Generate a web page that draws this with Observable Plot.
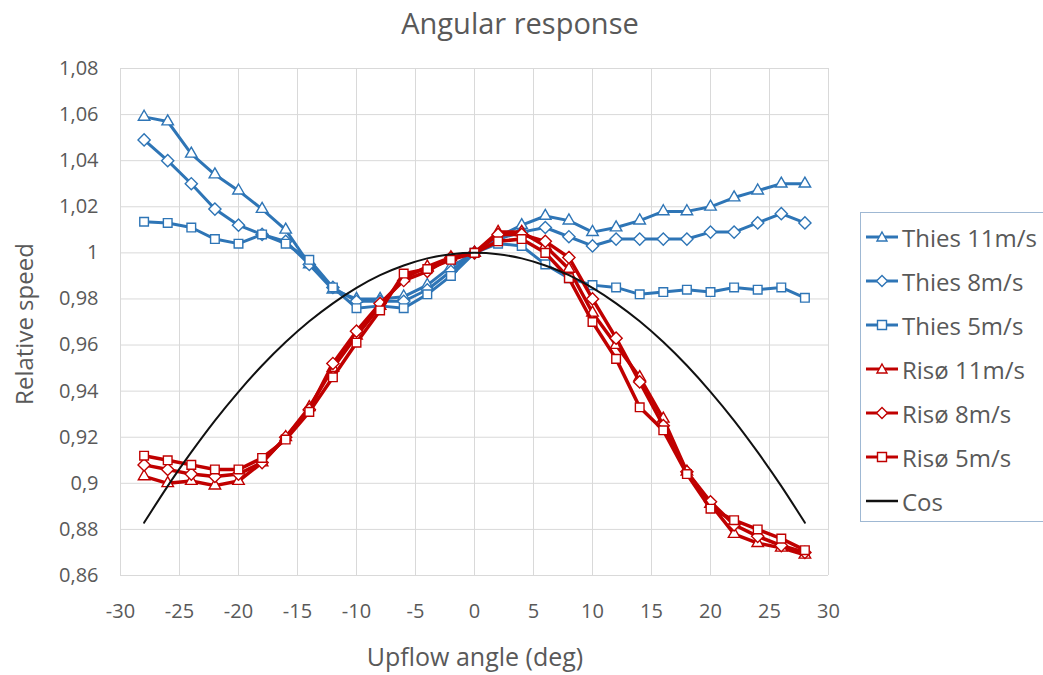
<!DOCTYPE html>
<html><head><meta charset="utf-8">
<script src="https://cdn.jsdelivr.net/npm/d3@7"></script>
<script src="https://cdn.jsdelivr.net/npm/@observablehq/plot@0.6"></script>
<style>
body{margin:0;background:#fff;font-family:"Open Sans",sans-serif;color:#595959;}
#wrap{position:relative;width:1043px;height:675px;overflow:hidden;}
#title{position:absolute;top:22px;left:520px;transform:translate(-50%,-50%);font-size:29px;white-space:nowrap;}
#ylab{position:absolute;left:23px;top:324px;transform:translate(-50%,-50%) rotate(-90deg);font-size:24px;white-space:nowrap;}
#xlab{position:absolute;left:475px;top:656px;transform:translate(-50%,-50%);font-size:25px;white-space:nowrap;}
#legend{position:absolute;left:860px;top:212px;width:200px;height:310px;border:1px solid #9fb8d3;box-sizing:border-box;}
.li{position:absolute;left:4px;height:30px;display:flex;align-items:center;font-size:24px;white-space:nowrap;}
.li svg{margin-right:3px;}
#chart{position:absolute;left:0;top:0;}
</style></head><body>
<div id="wrap">
<div id="chart"></div>
<div id="title">Angular response</div>
<div id="ylab">Relative speed</div>
<div id="xlab">Upflow angle (deg)</div>
<div id="legend"></div>
</div>
<script>
const angles = [-28,-26,-24,-22,-20,-18,-16,-14,-12,-10,-8,-6,-4,-2,0,2,4,6,8,10,12,14,16,18,20,22,24,26,28];
const thies11 = [1.059,1.057,1.043,1.034,1.027,1.019,1.010,0.995,0.984,0.980,0.980,0.981,0.986,0.994,1.000,1.007,1.012,1.016,1.014,1.009,1.011,1.014,1.018,1.018,1.020,1.024,1.027,1.030,1.030];
const thies8 = [1.049,1.040,1.030,1.019,1.012,1.008,1.005,0.995,0.985,0.979,0.979,0.979,0.984,0.992,1.000,1.006,1.009,1.011,1.007,1.003,1.006,1.006,1.006,1.006,1.009,1.009,1.013,1.017,1.013];
const thies5 = [1.0135,1.013,1.011,1.006,1.004,1.008,1.004,0.997,0.985,0.976,0.977,0.976,0.982,0.990,1.000,1.004,1.003,0.995,0.989,0.986,0.985,0.982,0.983,0.984,0.983,0.985,0.984,0.985,0.9805];
const riso11 = [0.903,0.900,0.901,0.899,0.901,0.909,0.920,0.933,0.950,0.964,0.977,0.989,0.994,0.998,1.000,1.009,1.009,1.003,0.993,0.974,0.960,0.946,0.928,0.905,0.891,0.878,0.874,0.872,0.869];
const riso8 = [0.908,0.906,0.904,0.903,0.904,0.909,0.920,0.932,0.952,0.966,0.978,0.988,0.992,0.998,1.000,1.008,1.008,1.005,0.998,0.980,0.963,0.944,0.925,0.905,0.892,0.882,0.877,0.873,0.870];
const riso5 = [0.912,0.910,0.908,0.906,0.906,0.911,0.919,0.931,0.946,0.961,0.975,0.991,0.993,0.997,1.000,1.005,1.006,1.000,0.989,0.970,0.954,0.933,0.923,0.904,0.889,0.884,0.880,0.876,0.871];
const cosValues = [0.8829,0.8988,0.9135,0.9272,0.9397,0.9511,0.9613,0.9703,0.9781,0.9848,0.9903,0.9945,0.9976,0.9994,1.0000,0.9994,0.9976,0.9945,0.9903,0.9848,0.9781,0.9703,0.9613,0.9511,0.9397,0.9272,0.9135,0.8988,0.8829];
const xTicks = [-30,-25,-20,-15,-10,-5,0,5,10,15,20,25,30];
const yTicks = [0.86,0.88,0.90,0.92,0.94,0.96,0.98,1.00,1.02,1.04,1.06,1.08];
const seriesNames = ["Thies 11m/s","Thies 8m/s","Thies 5m/s","Risø 11m/s","Risø 8m/s","Risø 5m/s","Cos"];

const BLUE = "#2e75b6", RED = "#c00000", BLACK = "#111";
const series = [
  {name: seriesNames[0], values: thies11, color: BLUE, symbol: "triangle2", sw: 3},
  {name: seriesNames[1], values: thies8, color: BLUE, symbol: "diamond2", sw: 3},
  {name: seriesNames[2], values: thies5, color: BLUE, symbol: "square2", sw: 3},
  {name: seriesNames[3], values: riso11, color: RED, symbol: "triangle2", sw: 3.5},
  {name: seriesNames[4], values: riso8, color: RED, symbol: "diamond2", sw: 3.5},
  {name: seriesNames[5], values: riso5, color: RED, symbol: "square2", sw: 3.5}
];
const rows = s => angles.map((a, i) => ({x: a, y: s.values[i]}));
const fmtY = d => String(+d.toFixed(2)).replace(".", ",");
const fmtX = d => String(d);

const marks = [
  Plot.gridX(xTicks, {stroke: "#d9d9d9", strokeOpacity: 1}),
  Plot.gridY(yTicks, {stroke: "#d9d9d9", strokeOpacity: 1}),
  Plot.axisX(xTicks, {tickSize: 0, tickPadding: 28, fontSize: 20, fill: "#595959", label: null, tickFormat: fmtX}),
  Plot.axisY(yTicks, {tickSize: 0, tickPadding: 22, fontSize: 20, fill: "#595959", label: null, tickFormat: fmtY})
];
for (const s of series) {
  const d = rows(s);
  marks.push(Plot.line(d, {x: "x", y: "y", stroke: s.color, strokeWidth: s.sw}));
  marks.push(Plot.dot(d, {x: "x", y: "y", symbol: s.symbol, r: 5.5, fill: "white", stroke: s.color, strokeWidth: 1.4}));
}
marks.push(Plot.line(angles.map((a, i) => ({x: a, y: cosValues[i]})), {x: "x", y: "y", stroke: BLACK, strokeWidth: 2, curve: "natural"}));

const chart = Plot.plot({
  width: 850, height: 675,
  marginLeft: 120, marginRight: 22, marginTop: 68, marginBottom: 100,
  x: {domain: [-30, 30]},
  y: {domain: [0.86, 1.08]},
  style: {fontFamily: "'Open Sans', sans-serif", background: "white"},
  marks
});
document.getElementById("chart").appendChild(chart);

// legend
const leg = document.getElementById("legend");
const legendY = [236, 280, 324, 368, 412, 456, 500];
const symPath = {
  triangle2: "M17,2 L22,11 L12,11 Z",
  diamond2: "M17,1.5 L22.5,7 L17,12.5 L11.5,7 Z",
  square2: "M12.5,2.5 L21.5,2.5 L21.5,11.5 L12.5,11.5 Z"
};
seriesNames.forEach((name, i) => {
  const s = series[i];
  const div = document.createElement("div");
  div.className = "li";
  div.style.top = (legendY[i] - 212 - 15) + "px";
  let svg;
  if (s) {
    svg = `<svg width="34" height="14"><line x1="1" y1="7" x2="33" y2="7" stroke="${s.color}" stroke-width="3"/><path d="${symPath[s.symbol]}" fill="white" stroke="${s.color}" stroke-width="1.4"/></svg>`;
  } else {
    svg = `<svg width="34" height="14"><line x1="1" y1="7" x2="33" y2="7" stroke="${BLACK}" stroke-width="2.5"/></svg>`;
  }
  div.innerHTML = svg + `<span>${name}</span>`;
  leg.appendChild(div);
});
</script>
</body></html>
